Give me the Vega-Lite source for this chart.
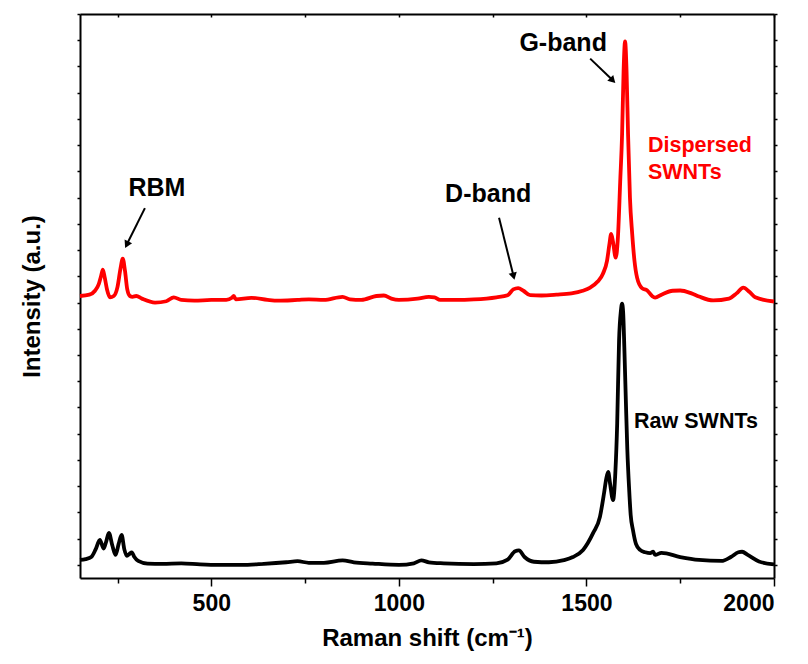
{
  "$schema": "https://vega.github.io/schema/vega-lite/v6.json",
  "autosize": "none",
  "width": 694,
  "height": 564,
  "padding": {"left": 80, "top": 14, "right": 34, "bottom": 86},
  "background": "white",
  "config": {
    "view": {"stroke": null},
    "font": "Liberation Sans",
    "axis": {
      "domainColor": "black",
      "domainWidth": 2,
      "tickColor": "black",
      "tickWidth": 1.5,
      "grid": false,
      "labelFont": "Liberation Sans",
      "labelFontWeight": "bold",
      "labelFontSize": 23,
      "labelColor": "black",
      "titleFont": "Liberation Sans",
      "titleFontWeight": "bold",
      "titleFontSize": 24,
      "titleColor": "black"
    }
  },
  "datasets": {
    "spectra": [
      {"shift": 150, "intensity": 0.19, "sample": "Raw SWNTs"},
      {"shift": 165, "intensity": 0.22, "sample": "Raw SWNTs"},
      {"shift": 180, "intensity": 0.3, "sample": "Raw SWNTs"},
      {"shift": 192, "intensity": 0.6, "sample": "Raw SWNTs"},
      {"shift": 203, "intensity": 0.95, "sample": "Raw SWNTs"},
      {"shift": 213, "intensity": 0.62, "sample": "Raw SWNTs"},
      {"shift": 220, "intensity": 0.9, "sample": "Raw SWNTs"},
      {"shift": 227, "intensity": 1.22, "sample": "Raw SWNTs"},
      {"shift": 236, "intensity": 0.75, "sample": "Raw SWNTs"},
      {"shift": 245, "intensity": 0.38, "sample": "Raw SWNTs"},
      {"shift": 253, "intensity": 0.8, "sample": "Raw SWNTs"},
      {"shift": 261, "intensity": 1.14, "sample": "Raw SWNTs"},
      {"shift": 268, "intensity": 0.6, "sample": "Raw SWNTs"},
      {"shift": 275, "intensity": 0.34, "sample": "Raw SWNTs"},
      {"shift": 282, "intensity": 0.42, "sample": "Raw SWNTs"},
      {"shift": 288, "intensity": 0.48, "sample": "Raw SWNTs"},
      {"shift": 295, "intensity": 0.3, "sample": "Raw SWNTs"},
      {"shift": 305, "intensity": 0.15, "sample": "Raw SWNTs"},
      {"shift": 330, "intensity": 0.05, "sample": "Raw SWNTs"},
      {"shift": 370, "intensity": 0.04, "sample": "Raw SWNTs"},
      {"shift": 420, "intensity": 0.06, "sample": "Raw SWNTs"},
      {"shift": 470, "intensity": 0.02, "sample": "Raw SWNTs"},
      {"shift": 520, "intensity": 0.0, "sample": "Raw SWNTs"},
      {"shift": 580, "intensity": 0.0, "sample": "Raw SWNTs"},
      {"shift": 640, "intensity": 0.04, "sample": "Raw SWNTs"},
      {"shift": 700, "intensity": 0.1, "sample": "Raw SWNTs"},
      {"shift": 730, "intensity": 0.14, "sample": "Raw SWNTs"},
      {"shift": 760, "intensity": 0.08, "sample": "Raw SWNTs"},
      {"shift": 800, "intensity": 0.08, "sample": "Raw SWNTs"},
      {"shift": 850, "intensity": 0.17, "sample": "Raw SWNTs"},
      {"shift": 880, "intensity": 0.1, "sample": "Raw SWNTs"},
      {"shift": 930, "intensity": 0.05, "sample": "Raw SWNTs"},
      {"shift": 1000, "intensity": 0.0, "sample": "Raw SWNTs"},
      {"shift": 1040, "intensity": 0.06, "sample": "Raw SWNTs"},
      {"shift": 1060, "intensity": 0.17, "sample": "Raw SWNTs"},
      {"shift": 1080, "intensity": 0.1, "sample": "Raw SWNTs"},
      {"shift": 1120, "intensity": 0.06, "sample": "Raw SWNTs"},
      {"shift": 1200, "intensity": 0.03, "sample": "Raw SWNTs"},
      {"shift": 1260, "intensity": 0.06, "sample": "Raw SWNTs"},
      {"shift": 1290, "intensity": 0.2, "sample": "Raw SWNTs"},
      {"shift": 1310, "intensity": 0.52, "sample": "Raw SWNTs"},
      {"shift": 1320, "intensity": 0.55, "sample": "Raw SWNTs"},
      {"shift": 1335, "intensity": 0.3, "sample": "Raw SWNTs"},
      {"shift": 1360, "intensity": 0.12, "sample": "Raw SWNTs"},
      {"shift": 1400, "intensity": 0.1, "sample": "Raw SWNTs"},
      {"shift": 1440, "intensity": 0.18, "sample": "Raw SWNTs"},
      {"shift": 1464, "intensity": 0.3, "sample": "Raw SWNTs"},
      {"shift": 1491, "intensity": 0.57, "sample": "Raw SWNTs"},
      {"shift": 1518, "intensity": 1.22, "sample": "Raw SWNTs"},
      {"shift": 1536, "intensity": 1.83, "sample": "Raw SWNTs"},
      {"shift": 1547, "intensity": 2.74, "sample": "Raw SWNTs"},
      {"shift": 1553, "intensity": 3.3, "sample": "Raw SWNTs"},
      {"shift": 1558, "intensity": 3.54, "sample": "Raw SWNTs"},
      {"shift": 1563, "intensity": 3.1, "sample": "Raw SWNTs"},
      {"shift": 1571, "intensity": 2.47, "sample": "Raw SWNTs"},
      {"shift": 1577, "intensity": 3.5, "sample": "Raw SWNTs"},
      {"shift": 1582, "intensity": 5.4, "sample": "Raw SWNTs"},
      {"shift": 1587, "intensity": 8.56, "sample": "Raw SWNTs"},
      {"shift": 1592, "intensity": 9.7, "sample": "Raw SWNTs"},
      {"shift": 1595, "intensity": 9.96, "sample": "Raw SWNTs"},
      {"shift": 1598, "intensity": 9.6, "sample": "Raw SWNTs"},
      {"shift": 1601, "intensity": 8.3, "sample": "Raw SWNTs"},
      {"shift": 1605, "intensity": 6.3, "sample": "Raw SWNTs"},
      {"shift": 1609, "intensity": 4.4, "sample": "Raw SWNTs"},
      {"shift": 1614, "intensity": 2.85, "sample": "Raw SWNTs"},
      {"shift": 1618, "intensity": 1.9, "sample": "Raw SWNTs"},
      {"shift": 1624, "intensity": 1.33, "sample": "Raw SWNTs"},
      {"shift": 1632, "intensity": 0.8, "sample": "Raw SWNTs"},
      {"shift": 1643, "intensity": 0.57, "sample": "Raw SWNTs"},
      {"shift": 1657, "intensity": 0.48, "sample": "Raw SWNTs"},
      {"shift": 1670, "intensity": 0.45, "sample": "Raw SWNTs"},
      {"shift": 1678, "intensity": 0.5, "sample": "Raw SWNTs"},
      {"shift": 1683, "intensity": 0.38, "sample": "Raw SWNTs"},
      {"shift": 1700, "intensity": 0.46, "sample": "Raw SWNTs"},
      {"shift": 1750, "intensity": 0.3, "sample": "Raw SWNTs"},
      {"shift": 1800, "intensity": 0.19, "sample": "Raw SWNTs"},
      {"shift": 1860, "intensity": 0.15, "sample": "Raw SWNTs"},
      {"shift": 1885, "intensity": 0.3, "sample": "Raw SWNTs"},
      {"shift": 1905, "intensity": 0.48, "sample": "Raw SWNTs"},
      {"shift": 1915, "intensity": 0.5, "sample": "Raw SWNTs"},
      {"shift": 1930, "intensity": 0.38, "sample": "Raw SWNTs"},
      {"shift": 1960, "intensity": 0.13, "sample": "Raw SWNTs"},
      {"shift": 2000, "intensity": 0.02, "sample": "Raw SWNTs"},
      {"shift": 150, "intensity": 10.25, "sample": "Dispersed SWNTs"},
      {"shift": 175, "intensity": 10.3, "sample": "Dispersed SWNTs"},
      {"shift": 190, "intensity": 10.45, "sample": "Dispersed SWNTs"},
      {"shift": 200, "intensity": 10.7, "sample": "Dispersed SWNTs"},
      {"shift": 206, "intensity": 11.0, "sample": "Dispersed SWNTs"},
      {"shift": 211, "intensity": 11.25, "sample": "Dispersed SWNTs"},
      {"shift": 216, "intensity": 10.95, "sample": "Dispersed SWNTs"},
      {"shift": 222, "intensity": 10.5, "sample": "Dispersed SWNTs"},
      {"shift": 230, "intensity": 10.2, "sample": "Dispersed SWNTs"},
      {"shift": 240, "intensity": 10.25, "sample": "Dispersed SWNTs"},
      {"shift": 250, "intensity": 10.6, "sample": "Dispersed SWNTs"},
      {"shift": 258, "intensity": 11.3, "sample": "Dispersed SWNTs"},
      {"shift": 264, "intensity": 11.67, "sample": "Dispersed SWNTs"},
      {"shift": 270, "intensity": 11.2, "sample": "Dispersed SWNTs"},
      {"shift": 276, "intensity": 10.5, "sample": "Dispersed SWNTs"},
      {"shift": 283, "intensity": 10.25, "sample": "Dispersed SWNTs"},
      {"shift": 290, "intensity": 10.22, "sample": "Dispersed SWNTs"},
      {"shift": 300, "intensity": 10.25, "sample": "Dispersed SWNTs"},
      {"shift": 315, "intensity": 10.15, "sample": "Dispersed SWNTs"},
      {"shift": 350, "intensity": 10.0, "sample": "Dispersed SWNTs"},
      {"shift": 380, "intensity": 10.05, "sample": "Dispersed SWNTs"},
      {"shift": 400, "intensity": 10.2, "sample": "Dispersed SWNTs"},
      {"shift": 420, "intensity": 10.1, "sample": "Dispersed SWNTs"},
      {"shift": 455, "intensity": 10.07, "sample": "Dispersed SWNTs"},
      {"shift": 500, "intensity": 10.1, "sample": "Dispersed SWNTs"},
      {"shift": 540, "intensity": 10.1, "sample": "Dispersed SWNTs"},
      {"shift": 555, "intensity": 10.18, "sample": "Dispersed SWNTs"},
      {"shift": 560, "intensity": 10.25, "sample": "Dispersed SWNTs"},
      {"shift": 565, "intensity": 10.12, "sample": "Dispersed SWNTs"},
      {"shift": 607, "intensity": 10.18, "sample": "Dispersed SWNTs"},
      {"shift": 650, "intensity": 10.1, "sample": "Dispersed SWNTs"},
      {"shift": 678, "intensity": 10.07, "sample": "Dispersed SWNTs"},
      {"shift": 730, "intensity": 10.1, "sample": "Dispersed SWNTs"},
      {"shift": 760, "intensity": 10.12, "sample": "Dispersed SWNTs"},
      {"shift": 800, "intensity": 10.1, "sample": "Dispersed SWNTs"},
      {"shift": 850, "intensity": 10.22, "sample": "Dispersed SWNTs"},
      {"shift": 870, "intensity": 10.12, "sample": "Dispersed SWNTs"},
      {"shift": 900, "intensity": 10.1, "sample": "Dispersed SWNTs"},
      {"shift": 940, "intensity": 10.25, "sample": "Dispersed SWNTs"},
      {"shift": 960, "intensity": 10.27, "sample": "Dispersed SWNTs"},
      {"shift": 980, "intensity": 10.15, "sample": "Dispersed SWNTs"},
      {"shift": 1000, "intensity": 10.1, "sample": "Dispersed SWNTs"},
      {"shift": 1050, "intensity": 10.15, "sample": "Dispersed SWNTs"},
      {"shift": 1080, "intensity": 10.22, "sample": "Dispersed SWNTs"},
      {"shift": 1095, "intensity": 10.2, "sample": "Dispersed SWNTs"},
      {"shift": 1110, "intensity": 10.1, "sample": "Dispersed SWNTs"},
      {"shift": 1150, "intensity": 10.1, "sample": "Dispersed SWNTs"},
      {"shift": 1200, "intensity": 10.12, "sample": "Dispersed SWNTs"},
      {"shift": 1260, "intensity": 10.2, "sample": "Dispersed SWNTs"},
      {"shift": 1290, "intensity": 10.28, "sample": "Dispersed SWNTs"},
      {"shift": 1305, "intensity": 10.5, "sample": "Dispersed SWNTs"},
      {"shift": 1318, "intensity": 10.55, "sample": "Dispersed SWNTs"},
      {"shift": 1332, "intensity": 10.45, "sample": "Dispersed SWNTs"},
      {"shift": 1350, "intensity": 10.28, "sample": "Dispersed SWNTs"},
      {"shift": 1380, "intensity": 10.27, "sample": "Dispersed SWNTs"},
      {"shift": 1420, "intensity": 10.3, "sample": "Dispersed SWNTs"},
      {"shift": 1460, "intensity": 10.35, "sample": "Dispersed SWNTs"},
      {"shift": 1490, "intensity": 10.45, "sample": "Dispersed SWNTs"},
      {"shift": 1510, "intensity": 10.57, "sample": "Dispersed SWNTs"},
      {"shift": 1530, "intensity": 10.8, "sample": "Dispersed SWNTs"},
      {"shift": 1544, "intensity": 11.1, "sample": "Dispersed SWNTs"},
      {"shift": 1555, "intensity": 11.6, "sample": "Dispersed SWNTs"},
      {"shift": 1561, "intensity": 12.2, "sample": "Dispersed SWNTs"},
      {"shift": 1566, "intensity": 12.62, "sample": "Dispersed SWNTs"},
      {"shift": 1571, "intensity": 12.3, "sample": "Dispersed SWNTs"},
      {"shift": 1578, "intensity": 11.71, "sample": "Dispersed SWNTs"},
      {"shift": 1584, "intensity": 12.5, "sample": "Dispersed SWNTs"},
      {"shift": 1590, "intensity": 14.6, "sample": "Dispersed SWNTs"},
      {"shift": 1595, "intensity": 16.4, "sample": "Dispersed SWNTs"},
      {"shift": 1599, "intensity": 18.8, "sample": "Dispersed SWNTs"},
      {"shift": 1603, "intensity": 19.96, "sample": "Dispersed SWNTs"},
      {"shift": 1607, "intensity": 18.8, "sample": "Dispersed SWNTs"},
      {"shift": 1611, "intensity": 16.4, "sample": "Dispersed SWNTs"},
      {"shift": 1616, "intensity": 14.0, "sample": "Dispersed SWNTs"},
      {"shift": 1622, "intensity": 12.62, "sample": "Dispersed SWNTs"},
      {"shift": 1628, "intensity": 11.6, "sample": "Dispersed SWNTs"},
      {"shift": 1635, "intensity": 10.95, "sample": "Dispersed SWNTs"},
      {"shift": 1648, "intensity": 10.55, "sample": "Dispersed SWNTs"},
      {"shift": 1662, "intensity": 10.46, "sample": "Dispersed SWNTs"},
      {"shift": 1675, "intensity": 10.25, "sample": "Dispersed SWNTs"},
      {"shift": 1683, "intensity": 10.19, "sample": "Dispersed SWNTs"},
      {"shift": 1700, "intensity": 10.3, "sample": "Dispersed SWNTs"},
      {"shift": 1730, "intensity": 10.45, "sample": "Dispersed SWNTs"},
      {"shift": 1750, "intensity": 10.46, "sample": "Dispersed SWNTs"},
      {"shift": 1780, "intensity": 10.35, "sample": "Dispersed SWNTs"},
      {"shift": 1800, "intensity": 10.23, "sample": "Dispersed SWNTs"},
      {"shift": 1838, "intensity": 10.08, "sample": "Dispersed SWNTs"},
      {"shift": 1880, "intensity": 10.15, "sample": "Dispersed SWNTs"},
      {"shift": 1900, "intensity": 10.35, "sample": "Dispersed SWNTs"},
      {"shift": 1918, "intensity": 10.57, "sample": "Dispersed SWNTs"},
      {"shift": 1935, "intensity": 10.4, "sample": "Dispersed SWNTs"},
      {"shift": 1950, "intensity": 10.2, "sample": "Dispersed SWNTs"},
      {"shift": 2000, "intensity": 10.04, "sample": "Dispersed SWNTs"}
    ],
    "labels": [
      {"label": "G-band", "shift": 1438, "intensity": 19.9},
      {"label": "D-band", "shift": 1238, "intensity": 14.14},
      {"label": "RBM", "shift": 355, "intensity": 14.37}
    ],
    "arrows": [
      {"name": "G", "shift": 1510, "intensity": 19.3, "shift2": 1568, "intensity2": 18.5},
      {"name": "D", "shift": 1267, "intensity": 13.23, "shift2": 1305, "intensity2": 11.05},
      {"name": "RBM", "shift": 323, "intensity": 13.6, "shift2": 276, "intensity2": 12.25}
    ],
    "sampleLabels": [
      {"label": "Dispersed\nSWNTs", "shift": 1664, "intensity": 15.97, "sample": "Dispersed SWNTs"},
      {"label": "Raw SWNTs", "shift": 1627, "intensity": 5.44, "sample": "Raw SWNTs"}
    ]
  },
  "resolve": {"axis": {"x": "independent", "y": "independent"}},
  "layer": [
    {
      "data": {"name": "spectra"},
      "mark": {"type": "line", "strokeWidth": 3.8, "interpolate": "monotone"},
      "encoding": {
        "x": {
          "field": "shift", "type": "quantitative",
          "scale": {"domain": [150, 2000], "nice": false, "zero": false},
          "axis": {
            "orient": "bottom",
            "title": "Raman shift (cm⁻¹)",
            "values": [250, 500, 750, 1000, 1250, 1500, 1750, 2000],
            "format": "d",
            "labelExpr": "datum.value % 500 === 0 ? datum.label : ''",
            "tickSize": {"condition": {"test": "datum.value % 500 === 0", "value": 8}, "value": 5},
            "labelPadding": 6,
            "titlePadding": 11
          }
        },
        "y": {
          "field": "intensity", "type": "quantitative",
          "scale": {"domain": [-0.5, 21], "nice": false, "zero": false},
          "axis": {
            "orient": "left",
            "title": "Intensity (a.u.)",
            "values": [0, 1, 2, 3, 4, 5, 6, 7, 8, 9, 10, 11, 12, 13, 14, 15, 16, 17, 18, 19, 20, 21],
            "labels": false,
            "tickSize": 3,
            "titlePadding": 32
          }
        },
        "color": {
          "field": "sample", "type": "nominal",
          "scale": {"domain": ["Raw SWNTs", "Dispersed SWNTs"], "range": ["#000000", "#ff0000"]},
          "legend": null
        },
        "detail": {"field": "sample"}
      }
    },
    {
      "data": {"name": "arrows"},
      "mark": {"type": "rule", "strokeWidth": 2, "color": "black"},
      "encoding": {
        "x": {
          "field": "shift", "type": "quantitative",
          "axis": {
            "orient": "top", "title": null, "labels": false,
            "values": [250, 500, 750, 1000, 1250, 1500, 1750, 2000],
            "tickSize": -3
          }
        },
        "y": {
          "field": "intensity", "type": "quantitative",
          "axis": {
            "orient": "right", "title": null, "labels": false,
            "values": [0, 1, 2, 3, 4, 5, 6, 7, 8, 9, 10, 11, 12, 13, 14, 15, 16, 17, 18, 19, 20, 21],
            "tickSize": 3
          }
        },
        "x2": {"field": "shift2"},
        "y2": {"field": "intensity2"}
      }
    },
    {
      "data": {"name": "arrows"},
      "transform": [{"filter": "datum.name === 'G'"}],
      "mark": {"type": "point", "shape": "triangle", "filled": true, "color": "black", "size": 70, "angle": 136, "opacity": 1},
      "encoding": {
        "x": {"field": "shift2", "type": "quantitative", "axis": null},
        "y": {"field": "intensity2", "type": "quantitative", "axis": null}
      }
    },
    {
      "data": {"name": "arrows"},
      "transform": [{"filter": "datum.name === 'D'"}],
      "mark": {"type": "point", "shape": "triangle", "filled": true, "color": "black", "size": 70, "angle": 166, "opacity": 1},
      "encoding": {
        "x": {"field": "shift2", "type": "quantitative", "axis": null},
        "y": {"field": "intensity2", "type": "quantitative", "axis": null}
      }
    },
    {
      "data": {"name": "arrows"},
      "transform": [{"filter": "datum.name === 'RBM'"}],
      "mark": {"type": "point", "shape": "triangle", "filled": true, "color": "black", "size": 70, "angle": 206, "opacity": 1},
      "encoding": {
        "x": {"field": "shift2", "type": "quantitative", "axis": null},
        "y": {"field": "intensity2", "type": "quantitative", "axis": null}
      }
    },
    {
      "data": {"name": "labels"},
      "mark": {"type": "text", "font": "Liberation Sans", "fontWeight": "bold", "fontSize": 25, "color": "black", "align": "center", "baseline": "middle"},
      "encoding": {
        "x": {"field": "shift", "type": "quantitative", "axis": null},
        "y": {"field": "intensity", "type": "quantitative", "axis": null},
        "text": {"field": "label"}
      }
    },
    {
      "data": {"name": "sampleLabels"},
      "mark": {"type": "text", "font": "Liberation Sans", "fontWeight": "bold", "fontSize": 21.5, "align": "left", "baseline": "middle", "lineBreak": "\n", "lineHeight": 27},
      "encoding": {
        "x": {"field": "shift", "type": "quantitative", "axis": null},
        "y": {"field": "intensity", "type": "quantitative", "axis": null},
        "text": {"field": "label"},
        "color": {"field": "sample", "type": "nominal", "legend": null}
      }
    }
  ]
}
